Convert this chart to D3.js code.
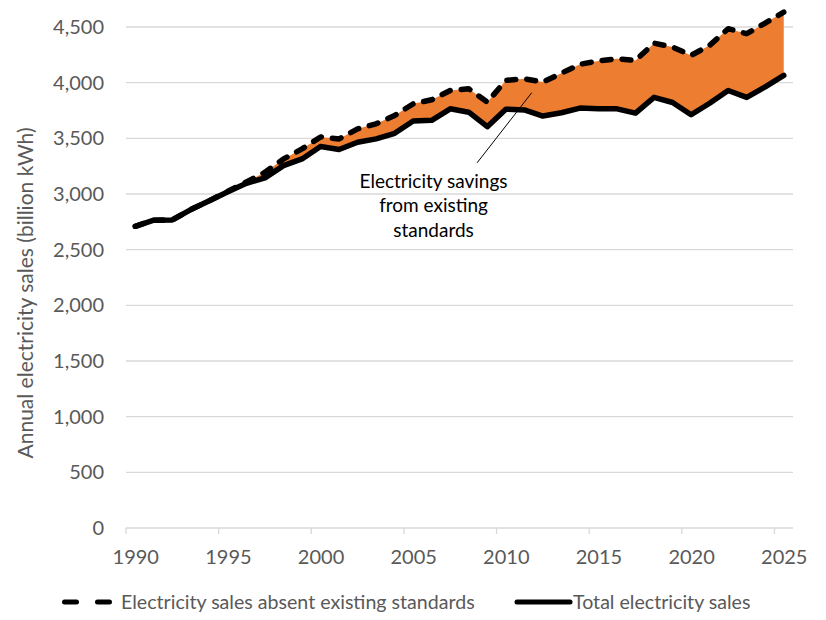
<!DOCTYPE html>
<html><head><meta charset="utf-8">
<script src="https://cdn.jsdelivr.net/npm/d3@7"></script>
<style>
body{margin:0;background:#fff}
text{font-family:Lato,"Open Sans",sans-serif}
</style>
</head><body>
<svg id="c" width="826" height="620"></svg>
<script>
const years = [1990,1991,1992,1993,1994,1995,1996,1997,1998,1999,2000,2001,2002,2003,2004,2005,2006,2007,2008,2009,2010,2011,2012,2013,2014,2015,2016,2017,2018,2019,2020,2021,2022,2023,2024,2025];
const totalSales = [2710,2765,2767,2860,2940,3020,3096,3145,3255,3315,3426,3400,3465,3495,3545,3655,3662,3765,3735,3605,3762,3755,3700,3730,3772,3765,3765,3726,3868,3822,3712,3815,3930,3868,3963,4065];
const absentSales = [2710,2765,2767,2860,2940,3024,3108,3195,3315,3405,3512,3495,3585,3630,3705,3810,3846,3930,3945,3825,4020,4035,4005,4085,4165,4195,4215,4200,4355,4320,4245,4335,4485,4440,4535,4634];
const xTickYears = [1990,1995,2000,2005,2010,2015,2020,2025];
const yTicks = [0,500,1000,1500,2000,2500,3000,3500,4000,4500];
const seriesNames = ["Electricity sales absent existing standards","Total electricity sales"];
const yTitle = "Annual electricity sales (billion kWh)";
const annotationLines = ["Electricity savings","from existing","standards"];
const annotationText = [2006.1, 3054];
const annotationLeader = [[2008.45, 3280],[2011.4, 3910]];

const svg = d3.select("#c");
const L = 126, R = 793, T = 27, B = 528;
const x = d3.scaleLinear().domain([1989.5, 2025.5]).range([L, R]);
const y = d3.scaleLinear().domain([0, 4500]).range([B, T]);
const data = years.map((yr,i)=>({yr, t: totalSales[i], a: absentSales[i]}));

// gridlines
svg.append("g").selectAll("line").data(yTicks).join("line")
  .attr("x1", L).attr("x2", R).attr("y1", d=>y(d)).attr("y2", d=>y(d))
  .attr("stroke", "#d9d9d9").attr("stroke-width", 1.3);

// x tick marks at category boundaries
svg.append("g").selectAll("line").data(xTickYears).join("line")
  .attr("x1", d=>x(d-0.5)).attr("x2", d=>x(d-0.5)).attr("y1", B).attr("y2", B+6)
  .attr("stroke", "#d9d9d9").attr("stroke-width", 1.3);

// y axis labels
const yAx = svg.append("g").attr("transform", `translate(${L},0)`)
  .call(d3.axisLeft(y).tickValues(yTicks).tickFormat(d3.format(",")).tickSize(0).tickPadding(22));
yAx.select(".domain").remove();
yAx.selectAll("text").attr("fill", "#595959").style("font-size", "20px").style("font-family", "Lato,'Open Sans',sans-serif");

// x axis labels
const xAx = svg.append("g").attr("transform", `translate(0,${B})`)
  .call(d3.axisBottom(x).tickValues(xTickYears).tickFormat(d3.format("d")).tickSize(0).tickPadding(22));
xAx.select(".domain").remove();
xAx.selectAll("text").attr("fill", "#595959").style("font-size", "20px").style("font-family", "Lato,'Open Sans',sans-serif");

// area between
svg.append("path").datum(data)
  .attr("d", d3.area().x(d=>x(d.yr)).y0(d=>y(d.t)).y1(d=>y(d.a)))
  .attr("fill", "#ED7D31");

// total line
svg.append("path").datum(data)
  .attr("d", d3.line().x(d=>x(d.yr)).y(d=>y(d.t)))
  .attr("fill", "none").attr("stroke", "#000").attr("stroke-width", 5.5)
  .attr("stroke-linejoin", "round").attr("stroke-linecap", "round");

// absent line dashed
svg.append("path").datum(data)
  .attr("d", d3.line().x(d=>x(d.yr)).y(d=>y(d.a)))
  .attr("fill", "none").attr("stroke", "#000").attr("stroke-width", 5.5)
  .attr("stroke-dasharray", "9 11")
  .attr("stroke-linejoin", "round").attr("stroke-linecap", "round");

// annotation
svg.append("line")
  .attr("x1", x(annotationLeader[0][0])).attr("y1", y(annotationLeader[0][1]))
  .attr("x2", x(annotationLeader[1][0])).attr("y2", y(annotationLeader[1][1]))
  .attr("stroke", "#000").attr("stroke-width", 1);
const at = svg.append("text").attr("text-anchor", "middle")
  .attr("x", x(annotationText[0])).attr("y", y(annotationText[1]))
  .attr("fill", "#000").style("font-size", "19px");
annotationLines.forEach((s,i)=>at.append("tspan").attr("x", x(annotationText[0])).attr("dy", i===0?0:24.3).text(s));

// y title
svg.append("text").attr("transform", "translate(33,293) rotate(-90)")
  .attr("text-anchor", "middle").attr("fill", "#595959").style("font-size", "21px")
  .text(yTitle);

// legend
const lg = svg.append("g");
const ly = 602;
lg.append("line").attr("x1", 64.5).attr("x2", 109.5).attr("y1", ly).attr("y2", ly)
  .attr("stroke", "#000").attr("stroke-width", 5).attr("stroke-dasharray", "12 21").attr("stroke-linecap", "round");
lg.append("text").attr("x", 121).attr("y", ly).attr("dy", "0.35em").attr("fill", "#595959").style("font-size", "19.6px").text(seriesNames[0]);
lg.append("line").attr("x1", 517).attr("x2", 570).attr("y1", ly).attr("y2", ly)
  .attr("stroke", "#000").attr("stroke-width", 5).attr("stroke-linecap", "round");
lg.append("text").attr("x", 573).attr("y", ly).attr("dy", "0.35em").attr("fill", "#595959").style("font-size", "19.6px").text(seriesNames[1]);
</script>
</body></html>
